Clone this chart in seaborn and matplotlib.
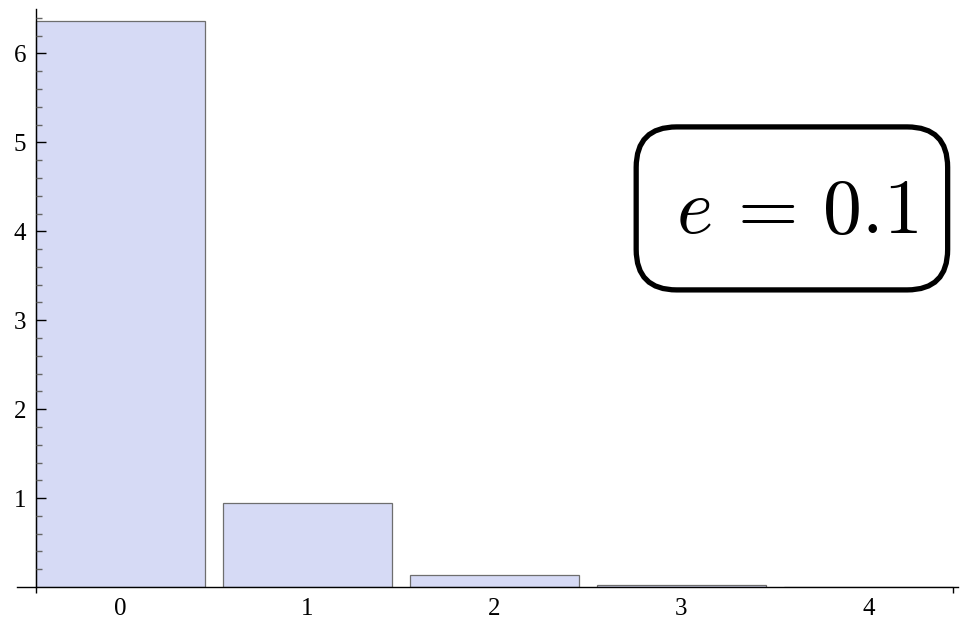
import matplotlib
matplotlib.use("Agg")
import matplotlib.pyplot as plt
from matplotlib.patches import FancyBboxPatch
import seaborn as sns
import pandas as pd

# Histogram heights per count
counts = ["0", "1", "2", "3", "4"]
heights = [6.37, 0.95, 0.135, 0.022, 0.005]
y_ticks = [1, 2, 3, 4, 5, 6]
panel_label = r"$e\,=\,0.1$"

sns.set_theme(style="white")
plt.rcParams["font.family"] = ["Liberation Serif", "DejaVu Serif"]
plt.rcParams["mathtext.fontset"] = "cm"

df = pd.DataFrame({"count": counts, "height": heights})

fig = plt.figure(figsize=(9.63, 6.23), dpi=100)
ax_w, ax_h = 941, 578
ax = fig.add_axes([17 / 963, 36 / 623, ax_w / 963, ax_h / 623])

bar_width = 0.905
sns.barplot(data=df, x="count", y="height", order=counts, width=bar_width,
            color="#D6DAF5", saturation=1, edgecolor="#6E6E6E", linewidth=0.9,
            ax=ax)

ax.set_xlim(-0.553, 4.479)
ax.set_ylim(0, 6.5)
ax.set_xlabel("")
ax.set_ylabel("")
ax.set_axisbelow(False)

for side in ("top", "right"):
    ax.spines[side].set_visible(False)
half = bar_width / 2
ax.spines["left"].set_position(("data", -half))
for side in ("left", "bottom"):
    ax.spines[side].set_color("black")
    ax.spines[side].set_linewidth(1.0)

ax.tick_params(left=True, bottom=True, which="both")

# y axis: major ticks at integers, minor every 0.2, drawn inward
ax.set_yticks(y_ticks)
ax.set_yticks([i * 0.2 for i in range(1, 33) if i % 5 != 0], minor=True)
ax.tick_params(axis="y", which="major", direction="in", length=7.5, width=1.0,
               color="black", labelsize=18, pad=7, labelcolor="black")
ax.tick_params(axis="y", which="minor", direction="in", length=4.5, width=1.0,
               color="#666666")

# x axis: labels at bar centres, short ticks at the outer bar edges
ax.set_xticks(range(len(counts)))
ax.set_xticklabels(counts)
ax.set_xticks([-half, len(counts) - 1 + half], minor=True)
ax.tick_params(axis="x", which="major", length=0, labelsize=18, pad=8,
               labelcolor="black")
ax.tick_params(axis="x", which="minor", direction="out", length=4.5, width=1.0,
               color="black")

# rounded label box (axes fraction, aspect-corrected corners)
box = FancyBboxPatch((0.658, 0.514), 0.331, 0.282, transform=ax.transAxes,
                     boxstyle="round,pad=0,rounding_size=0.043",
                     mutation_aspect=ax_w / ax_h, facecolor="white",
                     edgecolor="black", linewidth=3.8, clip_on=False, zorder=5)
ax.add_patch(box)
ax.text(0.829, 0.612, panel_label, transform=ax.transAxes, fontsize=56,
        ha="center", va="baseline", color="black", zorder=6)

fig.savefig("out.png", dpi=100)
